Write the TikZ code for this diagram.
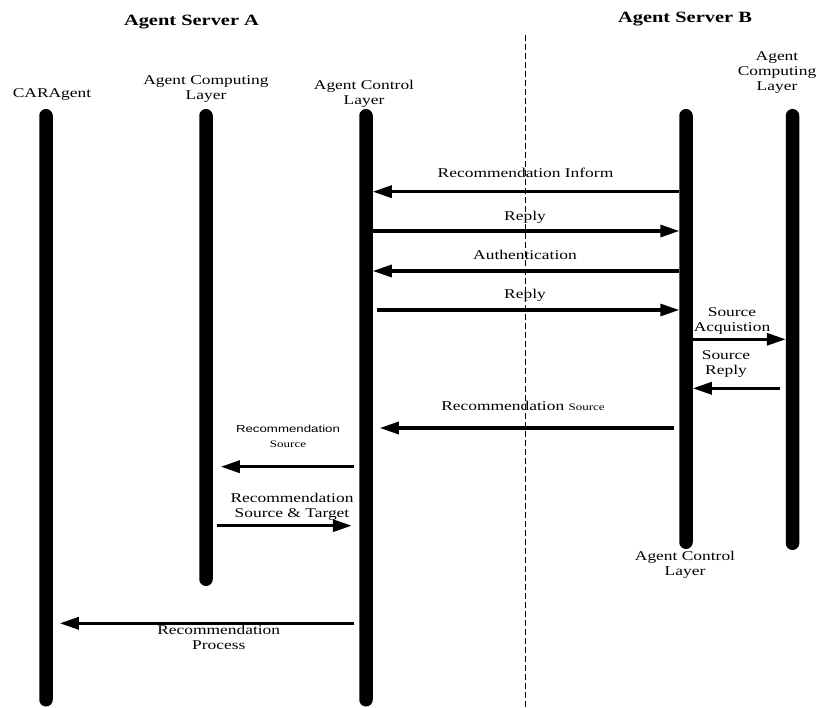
\documentclass[tikz,border=0pt]{standalone}
\usepackage{fontspec}
\setmainfont[FakeStretch=1.3]{Liberation Serif}
\newfontfamily\labelsans[FakeStretch=1.3]{Liberation Sans}
\usetikzlibrary{arrows.meta,calc}

\tikzset{
  lifeline/.style={rectangle, fill=black, draw=none, minimum width=13.5pt,
    inner sep=0pt, outer sep=0pt, rounded corners=6.7pt},
  msg/.style={line width=3.2pt, -{Triangle[length=19pt,width=12pt]}},
  % labels sit on the baseline of their last line
  lbl/.style={font=\fontsize{13.4}{15}\selectfont, align=center,
    inner sep=0pt, anchor=base},
  heading/.style={font=\fontsize{15.7}{18}\selectfont\bfseries,
    inner sep=0pt, anchor=base},
  divider/.style={line width=0.9pt, dash pattern=on 6pt off 3pt},
}
\newcommand{\smallsrc}{\fontsize{10}{12}\selectfont}

\begin{document}
\begin{tikzpicture}[x=1pt,y=-1pt]
\useasboundingbox (0,0) rectangle (817,708);

% server headings
\node[heading] (srvA) at (191.5,26) {Agent Server A};
\node[heading] (srvB) at (685,23) {Agent Server B};

% boundary between the two servers
\coordinate (divTop) at (525.5,35);
\coordinate (divBot) at (525.5,708);
\draw[divider] (divTop) -- (divBot);

% lifelines
\node[lifeline, minimum height=597.5pt] (car)   at (46,407.75)  {};
\node[lifeline, minimum height=477pt]   (compA) at (206,347.5)  {};
\node[lifeline, minimum height=597.5pt] (ctrlA) at (366,407.75) {};
\node[lifeline, minimum height=440pt]   (ctrlB) at (686,329)    {};
\node[lifeline, minimum height=441pt]   (compB) at (792.5,329.5){};

% lifeline titles
\node[lbl] (tCar)   at (52,98)    {CARAgent};
\node[lbl] (tCompA) at (206,100)  {Agent Computing\\Layer};
\node[lbl] (tCtrlA) at (364,105)  {Agent Control\\Layer};
\node[lbl] (tCompB) at (777,91)   {Agent\\Computing\\Layer};
\node[lbl] (tCtrlB) at (685,575)  {Agent Control\\Layer};

% messages between the control layers
\draw[msg] (ctrlB.west |- 0,191.7) -- (ctrlA.east |- 0,191.7);
\node[lbl] (m1) at (525.5,177.3) {Recommendation Inform};

\draw[msg] (ctrlA.east |- 0,231) -- (ctrlB.west |- 0,231);
\node[lbl] (m2) at (525,221) {Reply};

\draw[msg] (ctrlB.west |- 0,271) -- (ctrlA.east |- 0,271);
\node[lbl] (m3) at (525,260) {Authentication};

\draw[msg] ($(ctrlA.east |- 0,310)+(4,0)$) -- (ctrlB.west |- 0,310);
\node[lbl] (m4) at (525,299) {Reply};

% server B internal exchange
\draw[msg] (ctrlB.east |- 0,339.3) -- (compB.west |- 0,339.3);
\node[lbl] (m5) at (732,331.7) {Source\\Acquistion};

\draw[msg] ($(compB.west |- 0,388.3)+(-6,0)$) -- (ctrlB.east |- 0,388.3);
\node[lbl] (m6) at (726,375) {Source\\Reply};

% recommendation source returned to server A
\draw[msg] ($(ctrlB.west |- 0,428)+(-5,0)$) -- ($(ctrlA.east |- 0,428)+(7,0)$);
\node[lbl] (m7) at (523,410.7) {Recommendation {\smallsrc Source}};

% server A internal exchange
\draw[msg] ($(ctrlA.west |- 0,466.7)+(-5,0)$) -- ($(compA.east |- 0,466.7)+(8,0)$);
\node[lbl] (m8) at (288,448) {{\fontsize{10.2}{12}\selectfont\labelsans Recommendation}\\{\smallsrc Source}};

\draw[msg] ($(compA.east |- 0,525.7)+(4,0)$) -- ($(ctrlA.west |- 0,525.7)+(-7.5,0)$);
\node[lbl] (m9) at (292,518) {Recommendation\\Source \& Target};

% final result to the agent
\draw[msg] ($(ctrlA.west |- 0,623.3)+(-5,0)$) -- ($(car.east |- 0,623.3)+(7,0)$);
\node[lbl] (m10) at (218.7,649) {Recommendation\\Process};

\end{tikzpicture}
\end{document}
